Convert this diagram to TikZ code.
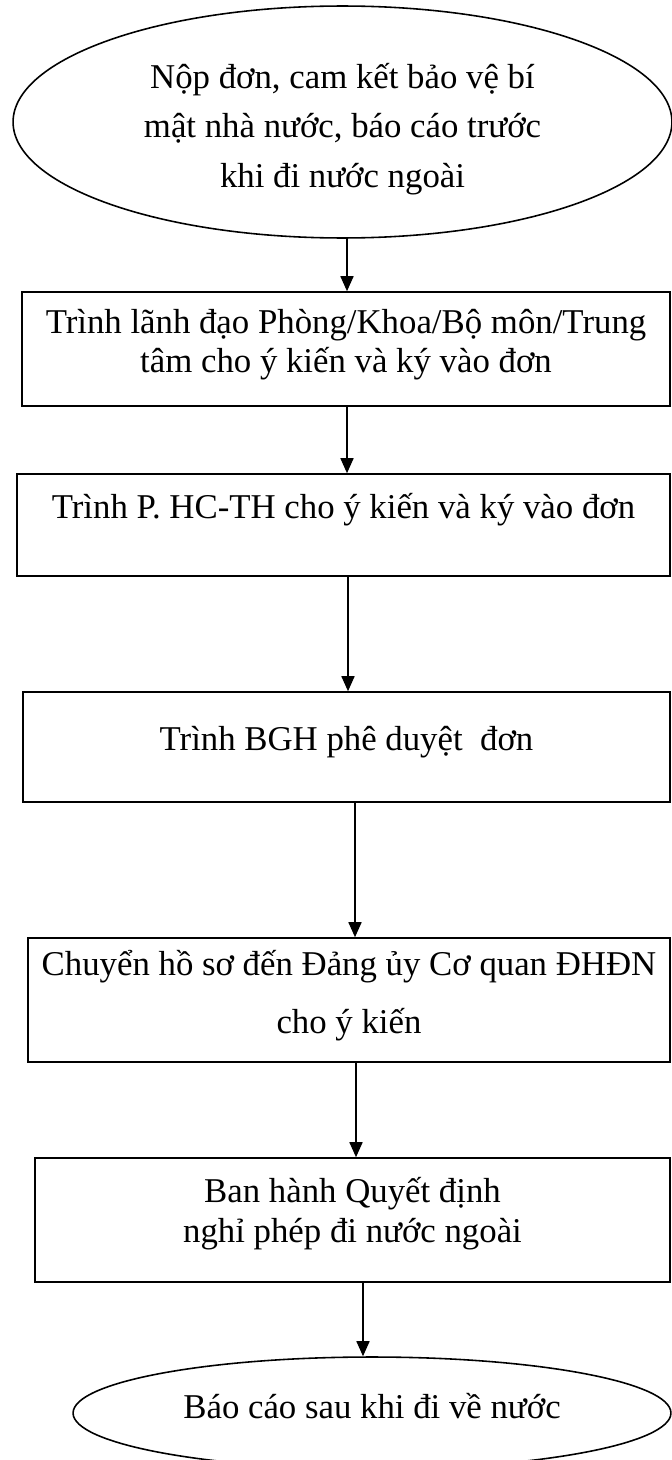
\documentclass[tikz,border=0pt]{standalone}
\usepackage{fontspec}
\setmainfont{Liberation Serif}
\usetikzlibrary{shapes.geometric,arrows.meta}

\begin{document}
\begin{tikzpicture}[x=0.02cm,y=-0.02cm,
	stepbox/.style={draw,line width=0.9pt,rectangle,inner sep=0pt,align=center,text height=0.5cm},
	terminal/.style={draw,line width=0.9pt,ellipse,inner sep=0pt,align=center,text height=0.5cm},
	flow/.style={line width=0.9pt,-{Triangle[width=0.26cm,length=0.3cm]}},
	font=\fontsize{19.8pt}{0.8cm}\selectfont]
	
	\useasboundingbox (0,0) rectangle (672,1460);
	
	\node[terminal,minimum width=13.18cm,minimum height=4.64cm,text height=2.64cm,text depth=0cm,
	font=\fontsize{19.8pt}{1cm}\selectfont] (start) at (342.5,122)
	{Nộp đơn, cam kết bảo vệ bí\\mật nhà nước, báo cáo trước\\khi đi nước ngoài};
	
	\node[stepbox,minimum width=12.96cm,minimum height=2.28cm,text height=1.3cm,text depth=0.34cm] (lanhdao) at (346,349)
	{Trình lãnh đạo Phòng/Khoa/Bộ môn/Trung\\tâm cho ý kiến và ký vào đơn};
	\node[stepbox,minimum width=13.06cm,minimum height=2.04cm,text depth=0.78cm] (hcth) at (343.5,525)
	{Trình P. HC-TH cho ý kiến và ký vào đơn};
	\node[stepbox,minimum width=12.94cm,minimum height=2.2cm,text depth=0.38cm] (bgh) at (346.5,747)
	{Trình BGH phê duyệt\ \ đơn};
	\node[stepbox,minimum width=12.84cm,minimum height=2.48cm,text height=1.66cm,text depth=0.34cm,
	font=\fontsize{19.8pt}{1.16cm}\selectfont] (dangUy) at (349,1000)
	{Chuyển hồ sơ đến Đảng ủy Cơ quan ĐHĐN\\cho ý kiến};
	\node[stepbox,minimum width=12.7cm,minimum height=2.48cm,text height=1.3cm,text depth=0.42cm] (quyetDinh) at (352.5,1220)
	{Ban hành Quyết định\\nghỉ phép đi nước ngoài};
	
	\node[terminal,minimum width=11.96cm,minimum height=2.24cm,text depth=0.3cm] (finish) at (372,1413)
	{Báo cáo sau khi đi về nước};
	
	\draw[flow] ([xshift=0.09cm]start.south) -- ([xshift=0.09cm]start.south |- lanhdao.north);
	\draw[flow] ([xshift=0.02cm]lanhdao.south) -- ([xshift=0.02cm]lanhdao.south |- hcth.north);
	\draw[flow] ([xshift=0.09cm]hcth.south) -- ([xshift=0.09cm]hcth.south |- bgh.north);
	\draw[flow] ([xshift=0.17cm]bgh.south) -- ([xshift=0.17cm]bgh.south |- dangUy.north);
	\draw[flow] ([xshift=0.14cm]dangUy.south) -- ([xshift=0.14cm]dangUy.south |- quyetDinh.north);
	\draw[flow] ([xshift=0.21cm]quyetDinh.south) -- ([xshift=0.21cm]quyetDinh.south |- finish.north);
	
\end{tikzpicture}
\end{document}
